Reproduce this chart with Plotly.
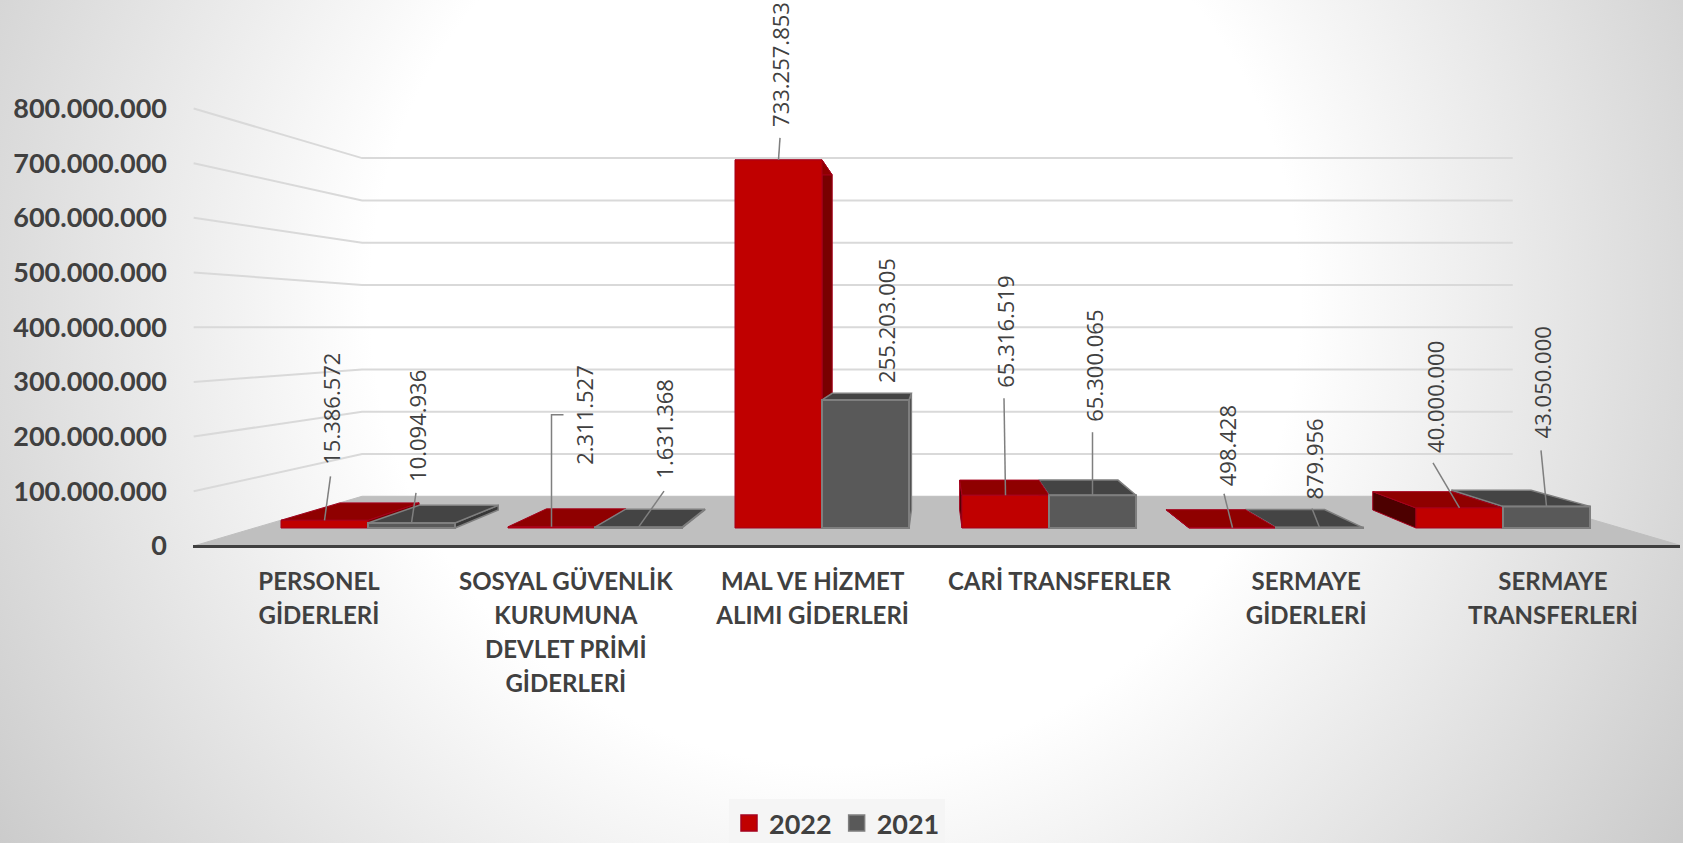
import base64
import plotly.graph_objects as go

CATEGORIES = ["PERSONEL<br>GİDERLERİ", "SOSYAL GÜVENLİK<br>KURUMUNA<br>DEVLET PRİMİ<br>GİDERLERİ",
              "MAL VE HİZMET<br>ALIMI GİDERLERİ", "CARİ TRANSFERLER", "SERMAYE<br>GİDERLERİ",
              "SERMAYE<br>TRANSFERLERİ"]
VALUES_2022 = [15386572, 2311527, 733257853, 65316519, 498428, 40000000]
VALUES_2021 = [10094936, 1631368, 255203005, 65300065, 879956, 43050000]
TICK_VALUES = [0, 100000000, 200000000, 300000000, 400000000, 500000000, 600000000, 700000000, 800000000]

# label and leader placement, in pixels relative to the top centre of each bar front
LABEL_OFFSET_2022 = [(7, -111), (32.5, -112), (2, -95.5), (0, -163), (-6, -82), (-24.5, -111)]
LABEL_OFFSET_2021 = [(6, -96.5), (26, -98), (20.5, -79), (2, -129), (-5.5, -68), (-4.5, -124)]
LEADER_2022 = [[(6, -44)], [(0, -112), (12, -112)], [(1.5, -22)], [(-1.5, -97)], [(-8.5, -34)], [(-26.5, -45)]]
LEADER_2021 = [[(4.5, -30)], [(25.5, -36)], [], [(0, -63)], [(-7.5, -19)], [(-5.5, -56)]]

W, H = 1683, 843
BOTTOM_SPARE = 8               # room under the visible page so the legend does not shrink the plot
L, R = 193, 1680
PX_X, X0 = 227.0, 368.0        # bar plane: pixels per category, pixel of category 0
PX_Y, Y0 = 50.2 / 1e8, 528.0   # bar plane: pixels per value, pixel of value 0
TICK_PX_Y, TICK_Y0 = 54.7 / 1e8, 546.0
LABEL_PX_X, LABEL_X0 = 246.8, 319.0  # front edge: pixels per category, pixel of category 0
VX, VV = 2.5, 4e8              # vanishing point in bar-plane data units
R_BAR_BACK = 0.91
R_WALL_FRONT = 1 / 0.918
R_WALL_BACK = 0.773 / 0.918
WALL_LEFT, WALL_RIGHT = -0.5, 5.52
BAR_W = 0.3833
RED, GREY = "#c00000", "#595959"
RED_LINE, GREY_LINE = "#a5001c", "#7f7f7f"
TEXT = "#404040"


def project(x, v, r):
    return VX + (x - VX) * r, VV + (v - VV) * r


def poly(points, fill, line, width=1.0):
    xs = [p[0] for p in points] + [points[0][0]]
    ys = [p[1] for p in points] + [points[0][1]]
    return go.Scatter(x=xs, y=ys, mode="lines", fill="toself", fillcolor=fill,
                      line=dict(color=line, width=width), hoverinfo="skip", showlegend=False,
                      xaxis="x", yaxis="y")


def box_faces(a, b, v, top, side_r, side_l, line, width):
    faces = []
    if b <= VX:
        faces.append(poly([(b, 0), (b, v), project(b, v, R_BAR_BACK), project(b, 0, R_BAR_BACK)], side_r, line, width))
    elif a >= VX:
        faces.append(poly([(a, 0), (a, v), project(a, v, R_BAR_BACK), project(a, 0, R_BAR_BACK)], side_l, line, width))
    faces.append(poly([(a, v), (b, v), project(b, v, R_BAR_BACK), project(a, v, R_BAR_BACK)], top, line, width))
    return faces


fig = go.Figure()

# walls and floor
for t in TICK_VALUES[1:]:
    a = project(WALL_LEFT, t, R_WALL_FRONT)
    b = project(WALL_LEFT, t, R_WALL_BACK)
    c = project(WALL_RIGHT, t, R_WALL_BACK)
    fig.add_trace(go.Scatter(x=[a[0], b[0], c[0]], y=[a[1], b[1], c[1]], mode="lines",
                             line=dict(color="#d9d9d9", width=2), hoverinfo="skip", showlegend=False))
fig.add_trace(poly([project(WALL_LEFT, 0, R_WALL_FRONT), project(WALL_LEFT, 0, R_WALL_BACK),
                    project(WALL_RIGHT, 0, R_WALL_BACK), project(WALL_RIGHT, 0, R_WALL_FRONT)], "#bfbfbf", "#bfbfbf"))

# depth faces, painted from the outside toward the vanishing point
for i in [0, 1, 2, 5, 4, 3]:
    red = box_faces(i - BAR_W, i, VALUES_2022[i], "#8f0000", "#780000", "#4d0000", RED_LINE, 1)
    grey = box_faces(i, i + BAR_W, VALUES_2021[i], "#444444", "#383838", "#383838", GREY_LINE, 1.5)
    for f in (red + grey if i <= 2 else grey + red):
        fig.add_trace(f)

# bar fronts
idx = list(range(len(CATEGORIES)))
fig.add_trace(go.Bar(x=idx, y=VALUES_2022, marker=dict(color=RED, line=dict(color=RED_LINE, width=1)),
                     offsetgroup="a", name="2022", showlegend=False, hoverinfo="skip", xaxis="x2", yaxis="y2"))
fig.add_trace(go.Bar(x=idx, y=VALUES_2021, marker=dict(color=GREY, line=dict(color=GREY_LINE, width=2)),
                     offsetgroup="b", name="2021", showlegend=False, hoverinfo="skip", xaxis="x2", yaxis="y2"))


def fmt(v):
    return f"{v:,}".replace(",", ".")


annotations = []
for vals, cx, offs, leads in ((VALUES_2022, -BAR_W / 2, LABEL_OFFSET_2022, LEADER_2022),
                              (VALUES_2021, BAR_W / 2, LABEL_OFFSET_2021, LEADER_2021)):
    for i, v in enumerate(vals):
        annotations.append(dict(x=i + cx, y=v, xref="x2", yref="y2", text=fmt(v), showarrow=False,
                                textangle=-90, xshift=offs[i][0], yshift=-offs[i][1],
                                xanchor="center", yanchor="middle",
                                font=dict(family="Open Sans", size=22, color=TEXT)))
        if leads[i]:
            xs = [i + cx] + [i + cx + p[0] / PX_X for p in leads[i]]
            ys = [v] + [v - p[1] / PX_Y for p in leads[i]]
            fig.add_trace(go.Scatter(x=xs, y=ys, mode="lines", line=dict(color="#7f7f7f", width=1.5),
                                     hoverinfo="skip", showlegend=False, xaxis="x2", yaxis="y2"))

# legend carriers on the tick axes
for name, col, ln in (("2022", RED, RED_LINE), ("2021", GREY, GREY_LINE)):
    fig.add_trace(go.Scatter(x=[None], y=[None], mode="markers", name=name, xaxis="x3", yaxis="y3",
                             marker=dict(symbol="square", size=18, color=col, line=dict(color=ln, width=1.5))))

x_range = [(L - X0) / PX_X, (R - X0) / PX_X]
y_range = [(Y0 - H) / PX_Y, Y0 / PX_Y]
hidden = dict(visible=False, fixedrange=True)

gradient = f'''<svg xmlns="http://www.w3.org/2000/svg" width="{W}" height="{H}" viewBox="0 0 {W} {H}">
<defs><radialGradient id="g" gradientUnits="userSpaceOnUse" cx="835" cy="300" r="1000">
<stop offset="0.465" stop-color="#ffffff"/><stop offset="1" stop-color="#cbcbcb"/></radialGradient></defs>
<rect width="{W}" height="{H}" fill="url(#g)"/></svg>'''
uri = "data:image/svg+xml;base64," + base64.b64encode(gradient.encode()).decode()

# category labels: tick font sets the line pitch, the span sets the glyph size
tick_text = ["<br>".join(f'<span style="font-size:24px">{part}</span>' for part in c.split("<br>"))
             for c in CATEGORIES]

plot_w = R - L
fig.update_layout(
    width=W, height=H + BOTTOM_SPARE, margin=dict(l=L, r=W - R, t=0, b=BOTTOM_SPARE),
    paper_bgcolor="#ffffff", plot_bgcolor="rgba(0,0,0,0)",
    barmode="group", bargap=1 - 2 * BAR_W, bargroupgap=0,
    font=dict(family="Lato", color=TEXT),
    images=[dict(source=uri, xref="paper", yref="paper", x=-L / plot_w, y=1, sizex=W / plot_w, sizey=1,
                 xanchor="left", yanchor="top", sizing="stretch", layer="below")],
    xaxis=dict(range=x_range, **hidden),
    yaxis=dict(range=y_range, **hidden),
    xaxis2=dict(range=x_range, overlaying="x", **hidden),
    yaxis2=dict(range=y_range, overlaying="y", **hidden),
    xaxis3=dict(range=[(L - LABEL_X0) / LABEL_PX_X, (R - LABEL_X0) / LABEL_PX_X], overlaying="x", anchor="free",
                position=1 - TICK_Y0 / H, side="bottom",
                tickmode="array", tickvals=idx, ticktext=tick_text, ticks="", showgrid=False, zeroline=False,
                showline=True, linecolor="#404040", linewidth=3, ticklabelstandoff=11,
                tickfont=dict(family="Lato", size=26, color=TEXT, weight="bold"), tickangle=0, fixedrange=True),
    yaxis3=dict(range=[(TICK_Y0 - H) / TICK_PX_Y, TICK_Y0 / TICK_PX_Y], overlaying="y", anchor="x3", side="left",
                tickmode="array", tickvals=TICK_VALUES, ticktext=[fmt(t) for t in TICK_VALUES], ticks="",
                showgrid=False, zeroline=False, showline=False, ticklabelstandoff=25,
                tickfont=dict(family="Lato", size=27, color=TEXT, weight="bold"), fixedrange=True),
    showlegend=True,
    legend=dict(orientation="h", x=(837 - L) / plot_w, xanchor="center", y=1 - 799 / H, yanchor="top",
                bgcolor="#f5f5f5", font=dict(family="Lato", size=27, color=TEXT, weight="bold"),
                itemsizing="trace", itemclick=False, itemdoubleclick=False),
    annotations=annotations,
)

fig.write_html("out.html", config=dict(displayModeBar=False),
               post_script="document.body.style.margin='0';document.documentElement.style.overflow='hidden';")
